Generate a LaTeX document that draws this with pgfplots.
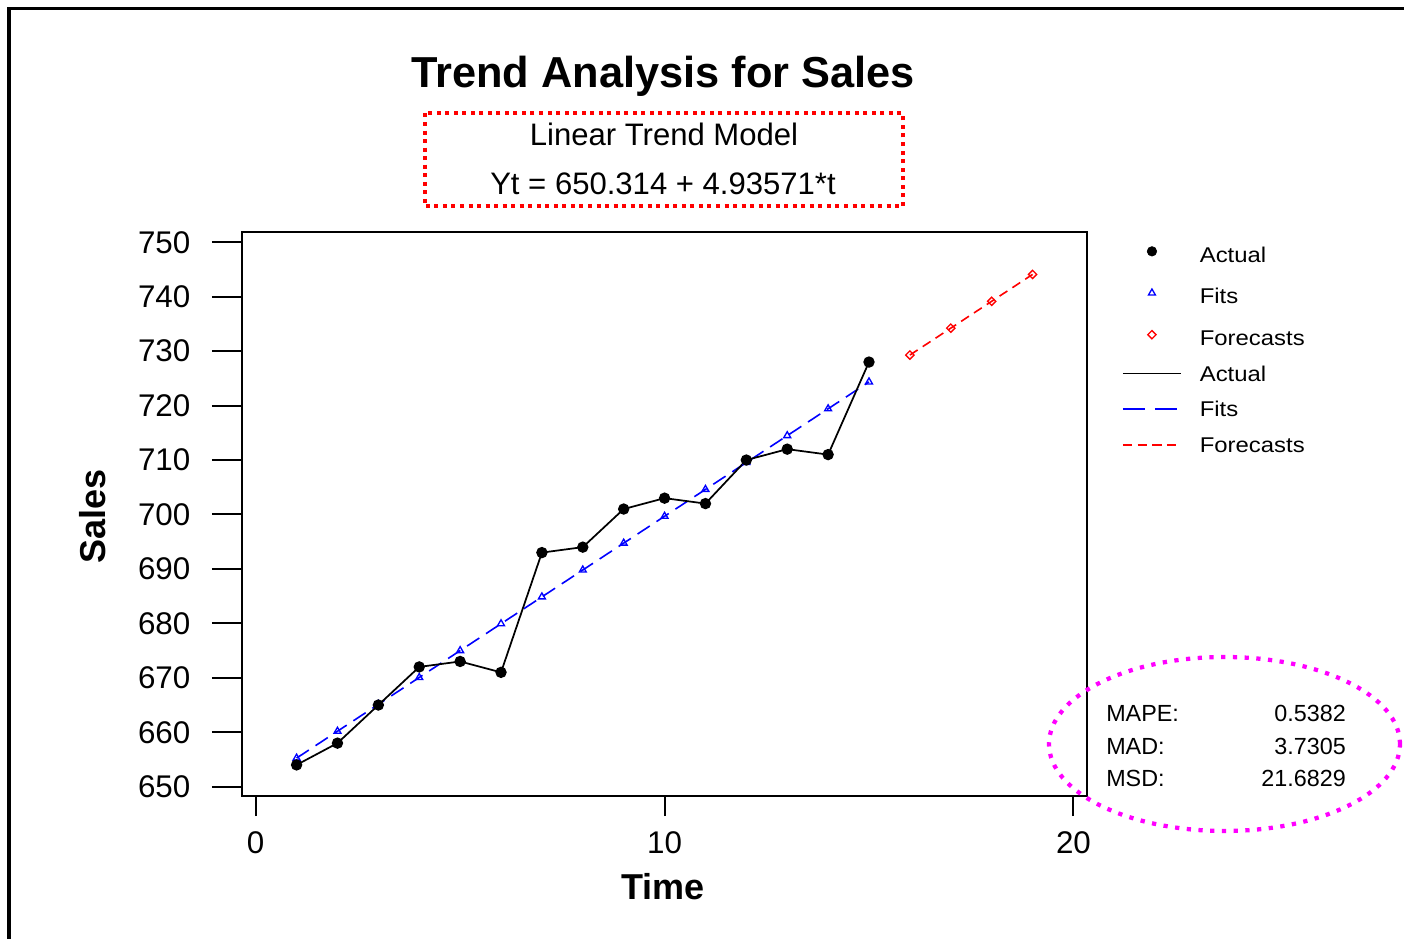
\documentclass[border=0pt]{standalone}
\usepackage{pgfplots}
\pgfplotsset{compat=1.18}
\usepackage{fontspec}
\usepackage{graphicx}
\setmainfont{Liberation Sans}

\definecolor{fitblue}{RGB}{0,0,255}
\definecolor{fcred}{RGB}{255,0,0}
\definecolor{statmag}{RGB}{255,0,255}

% legend images: a 43.5pt wide sample, marks sit in its middle
\pgfplotsset{
  actlegend/.style={legend image code/.code={\draw[draw=black, line width=1.3pt]
      (0pt,0pt) -- (43.5pt,0pt);}},
  fitlegend/.style={legend image code/.code={\draw[draw=fitblue, line width=1.3pt,
      dash pattern=on 16.5pt off 7.5pt] (0pt,0pt) -- (43.5pt,0pt);}},
  fclegend/.style={legend image code/.code={\draw[draw=fcred, line width=1.3pt,
      dash pattern=on 7pt off 4pt] (0pt,0pt) -- (43.5pt,0pt);}},
  marklegend/.style={legend image code/.code={%
      \path (0pt,0pt) (43.5pt,0pt);
      \draw[mark repeat=2,mark phase=2,##1] plot coordinates {(0pt,0pt) (21.75pt,0pt) (43.5pt,0pt)};}},
}
% legend text with a fixed height and depth
\newcommand{\legtxt}[3]{\rule[-#1]{0pt}{\dimexpr#1+#2\relax}\scalebox{1.12}[1]{#3}}

\begin{document}
\begin{tikzpicture}[x=0.75pt,y=0.75pt]
\useasboundingbox (0,0) rectangle (1404,939);
\fill[white] (0,0) rectangle (1404,939);
% outer frame
\draw[line width=2.6pt] (9.2,0) -- (9.2,930.7) -- (1404,930.7);

% title and model
\node[anchor=base, inner sep=0pt] at (663,851)
  {\fontsize{32.5}{38}\selectfont\bfseries Trend Analysis for Sales};
\node[anchor=base, inner sep=0pt] at (664,793)
  {\fontsize{23.3}{28}\selectfont Linear Trend Model};
\node[anchor=base, inner sep=0pt] at (663,744.3)
  {\fontsize{23.3}{28}\selectfont Yt = 650.314 + 4.93571*t};
\draw[fcred, line width=3pt, dash pattern=on 3pt off 3.4pt] (425,825.5) rectangle (903,732.5);

\begin{axis}[
  at={(181.5pt,107.25pt)}, anchor=south west,
  scale only axis, width=634pt, height=422.8pt,
  xmin=-0.335, xmax=20.34, ymin=648.29, ymax=751.84,
  xtick={0,10,20}, ytick={650,660,...,750},
  tick pos=left, tick align=outside,
  major tick length=22.5pt,
  xtick style={/pgfplots/major tick length=15pt, line width=1.5pt, black},
  ytick style={line width=1.5pt, black},
  axis line style={line width=1.5pt},
  tick label style={font=\fontsize{23.5}{28}\selectfont, /pgf/number format/assume math mode=true},
  yticklabel style={xshift=-12.75pt},
  xticklabel style={yshift=-1pt},
  /pgf/number format/1000 sep={},
  xlabel={Time}, ylabel={Sales},
  label style={font=\fontsize{27}{32}\selectfont\bfseries},
  xlabel style={at={(axis description cs:0.498,-0.1614)}, anchor=center},
  ylabel style={at={(axis description cs:-0.1763,0.4958)}, anchor=center},
  legend cell align=left,
  legend style={at={(axis description cs:1.0411,0.9888)}, anchor=north west,
    draw=none, fill=none, inner sep=0pt, outer sep=0pt,
    row sep=12.1pt, column sep=13.5pt,
    nodes={inner sep=0pt, font=\fontsize{16}{19}\selectfont}},
]
% fitted trend
\addplot[color=fitblue, line width=1.2pt, dash pattern=on 11pt off 6pt,
  mark=triangle, mark size=3pt, mark options={solid, line width=1pt}, forget plot]
  coordinates {
  (1,655.2497) (2,660.1854) (3,665.1211) (4,670.0568) (5,674.9926)
  (6,679.9283) (7,684.8640) (8,689.7997) (9,694.7354) (10,699.6711)
  (11,704.6068) (12,709.5425) (13,714.4782) (14,719.4139) (15,724.3497)};
% observed sales
\addplot[color=black, line width=1.3pt, mark=*, mark size=3.6pt, forget plot]
  coordinates {
  (1,654) (2,658) (3,665) (4,672) (5,673) (6,671) (7,693) (8,694)
  (9,701) (10,703) (11,702) (12,710) (13,712) (14,711) (15,728)};
% forecasts
\addplot[color=fcred, line width=1.2pt, dash pattern=on 7pt off 4.5pt,
  mark=square, mark size=2.2pt, mark options={solid, rotate=45, line width=1pt}, forget plot]
  coordinates {(16,729.2854) (17,734.2211) (18,739.1568) (19,744.0925)};

\addlegendimage{only marks, mark=*, color=black, mark size=3.6pt, marklegend}
\addlegendentry{\legtxt{8.65pt}{17.65pt}{Actual}}
\addlegendimage{only marks, mark=triangle, color=fitblue, mark size=3pt, line width=1pt, marklegend}
\addlegendentry{\legtxt{8.65pt}{17.65pt}{Fits}}
\addlegendimage{only marks, mark=square, mark options={rotate=45}, color=fcred, mark size=2.2pt, line width=1pt, marklegend}
\addlegendentry{\legtxt{8.65pt}{17.65pt}{Forecasts}}
\addlegendimage{actlegend}
\addlegendentry{\legtxt{4.2pt}{13.2pt}{Actual}}
\addlegendimage{fitlegend}
\addlegendentry{\legtxt{4.2pt}{13.2pt}{Fits}}
\addlegendimage{fclegend}
\addlegendentry{\legtxt{4.2pt}{13.2pt}{Forecasts}}
\end{axis}

% accuracy measures
\begin{scope}[every node/.style={inner sep=0pt, font=\fontsize{17.5}{21}\selectfont}]
\node[anchor=base west] at (1106,217.3) {MAPE:};
\node[anchor=base west] at (1106,184.7) {MAD:};
\node[anchor=base west] at (1106,152.3) {MSD:};
\node[anchor=base east] at (1346,217.3) {0.5382};
\node[anchor=base east] at (1346,184.7) {3.7305};
\node[anchor=base east] at (1346,152.3) {21.6829};
\end{scope}
\draw[statmag, line width=3.2pt, dash pattern=on 3.2pt off 5.6pt] (1224.5,195) ellipse [x radius=175.5, y radius=87];
\end{tikzpicture}
\end{document}
